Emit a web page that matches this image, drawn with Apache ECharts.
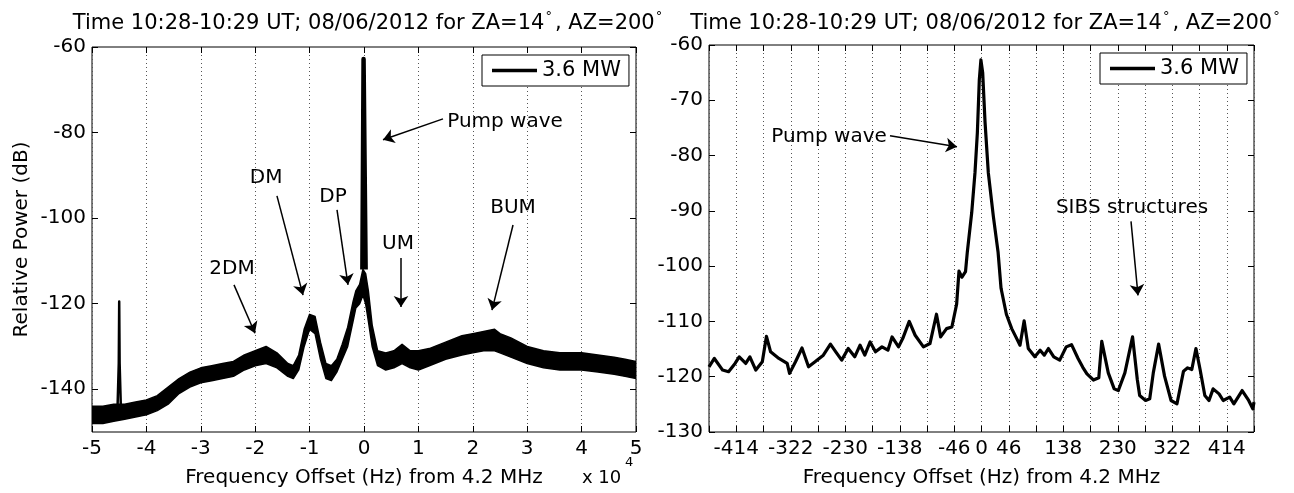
<!DOCTYPE html>
<html>
<head>
<meta charset="utf-8">
<script src="https://cdn.jsdelivr.net/npm/echarts@6/dist/echarts.min.js"></script>
<style>html,body{margin:0;padding:0;background:#fff}#c{width:1294px;height:493px}</style>
</head>
<body>
<div id="c"></div>
<script>
// ---------- data ----------
const titleText = 'Time 10:28-10:29 UT; 08/06/2012 for ZA=14';
const titleText2 = ', AZ=200';
const legendName = '3.6 MW';
const xName = 'Frequency Offset (Hz) from 4.2 MHz';
const yName = 'Relative Power (dB)';

// Left panel: frequency offset in units of 10^4 Hz, noisy band lower/upper edge (dB)
const bandX    = [-5.0,-4.8,-4.6,-4.4,-4.2,-4.0,-3.8,-3.6,-3.4,-3.2,-3.0,-2.8,-2.6,-2.4,-2.2,-2.0,-1.8,-1.6,-1.4,-1.3,-1.2,-1.1,-1.0,-0.9,-0.8,-0.7,-0.6,-0.5,-0.4,-0.3,-0.2,-0.15,-0.08,-0.02,0.03,0.08,0.15,0.25,0.4,0.55,0.7,0.85,1.0,1.2,1.5,1.8,2.0,2.2,2.4,2.5,2.7,3.0,3.3,3.6,4.0,4.3,4.6,4.8,5.0];
const bandLow  = [-148,-148,-147.5,-147,-146.5,-146,-145,-143.5,-141,-139.5,-138.5,-138,-137.5,-137,-135.5,-134.5,-134,-135,-137,-137.5,-135.5,-130,-126,-127,-133,-137.5,-138,-136,-133,-130,-124,-121,-120,-118,-120,-124,-130,-134.5,-135.5,-135,-134,-135,-135.5,-134.5,-133,-132,-131.5,-131,-131,-131.5,-132.5,-134,-135,-135.5,-135.5,-136,-136.5,-137,-137.5];
const bandHigh = [-144,-144,-143.5,-143.5,-143,-142.5,-141.5,-139.5,-137.5,-136,-135,-134.5,-134,-133.5,-132,-131,-130,-131.5,-134,-134.5,-132,-126,-122.5,-123,-129,-134,-134.5,-133,-129.5,-125.5,-119.5,-117,-115.5,-112,-113,-117,-125,-131,-131.5,-131,-129.5,-131,-131,-130.5,-129,-127.5,-127,-126.5,-126,-127,-128,-130,-131,-131.5,-131.5,-132,-132.5,-133,-133.5];
// narrow lines in the left panel
const pumpX   = [-0.03,-0.008,0.008,0.03];
const pumpY   = [-112,-62.8,-62.8,-112];
const spurX   = [-4.53,-4.508,-4.50,-4.492,-4.47];
const spurY   = [-144,-134,-119.5,-134,-144];

// Right panel: frequency offset (Hz), relative power (dB)
const rightX = [-460,-451,-437,-427,-416,-409,-398,-391,-381,-370,-363,-356,-342,-328,-324,-314,-303,-292,-281,-267,-255,-246,-236,-225,-214,-205,-197,-188,-179,-168,-158,-151,-140,-133,-122,-112,-98,-87,-76,-69,-59,-50,-42,-38,-33,-27,-24,-16.5,-11,-7,-3.7,-1,2,6,11.5,20,28,33,42,51,58,65,72,79,90,99,106,113,122,132,143,152,163,171,178,189,198,203,214,224,231,242,255,263,267,277,284,290,299,309,320,330,341,348,355,362,369,377,384,391,401,408,419,426,440,451,458,460];
const rightY = [-118.2,-116.7,-118.8,-119.1,-117.6,-116.4,-117.6,-116.4,-118.8,-117.3,-112.7,-115.5,-116.7,-117.6,-119.4,-117.3,-114.8,-118.2,-117.3,-116.1,-114.1,-115.5,-117.0,-114.9,-116.4,-114.3,-116.1,-113.7,-115.5,-114.6,-115.2,-112.8,-114.6,-113.1,-110.0,-112.5,-114.6,-114.0,-108.7,-112.8,-111.3,-111.0,-106.9,-100.9,-102.0,-101.0,-97.5,-90.3,-83.1,-75.9,-66.3,-62.7,-65,-74,-83.1,-91,-97.5,-104,-108.7,-111.3,-112.8,-114.3,-109.9,-114.9,-116.4,-115.2,-116.1,-114.9,-116.4,-117.0,-114.6,-114.2,-116.7,-118.3,-119.5,-120.6,-120.2,-113.6,-119.3,-122.2,-122.5,-119.3,-112.8,-120.5,-123.4,-124.3,-124,-119.3,-114.1,-119.9,-124.3,-124.9,-119,-118.4,-118.7,-114.9,-118.7,-123.4,-124.3,-122.2,-123.1,-124.3,-123.7,-124.9,-122.5,-124.3,-125.8,-124.6];

// tick labels
const leftXTicks  = [-5,-4,-3,-2,-1,0,1,2,3,4,5];
const leftYTicks  = [-140,-120,-100,-80,-60];
const rightXLabels = [-414,-322,-230,-138,-46,0,46,138,230,322,414];

// annotations: [text, textX, textY, tailX, tailY, headX, headY] in data units
const leftNotes = [
  ['Pump wave', 2.592, -77.5, 1.452, -76.8, 0.349, -81.7],
  ['DP', -0.57, -95.1, -0.496, -98.1, -0.294, -115.6],
  ['UM', 0.625, -106.0, 0.680, -109.3, 0.680, -120.8],
  ['BUM', 2.739, -97.6, 2.739, -101.6, 2.353, -121.5],
  ['DM', -1.80, -90.6, -1.60, -94.8, -1.121, -118.0],
  ['2DM', -2.426, -111.9, -2.390, -115.6, -2.004, -126.9]
];
const rightNotes = [
  ['Pump wave', -257.4, -76.6, -154.5, -76.4, -41.4, -78.4],
  ['SIBS structures', 254.1, -89.4, 252.4, -91.9, 264.2, -105.3]
];

// ---------- chart ----------
const FONT = 'DejaVu Sans';
const zip = (a, b) => a.map((v, i) => [v, b[i]]);
const chart = echarts.init(document.getElementById('c'), null, {renderer: 'canvas'});

function marks(notes) {
  return {
    markLine: {
      silent: true, animation: false,
      symbol: ['none', 'arrow'], symbolSize: 11,
      lineStyle: {color: '#000', width: 1.5, type: 'solid'},
      itemStyle: {color: '#000'},
      label: {show: false},
      data: notes.map(n => [{coord: [n[3], n[4]]}, {coord: [n[5], n[6]]}])
    },
    markPoint: {
      silent: true, animation: false,
      symbol: 'rect', symbolSize: 1,
      itemStyle: {color: 'rgba(0,0,0,0)'},
      label: {show: true, position: 'inside', color: '#000', fontSize: 20, fontFamily: FONT,
              formatter: p => p.name},
      data: notes.map(n => ({name: n[0], coord: [n[1], n[2]]}))
    }
  };
}

const tickStyle = {inside: true, length: 6, lineStyle: {color: '#000', width: 1}};
const noLine = {show: false, onZero: false};
const labelStyle = {color: '#000', fontSize: 20, fontFamily: FONT};
const gridLine = {show: true, lineStyle: {color: '#555', width: 1, type: [1, 3]}};
const nameStyle = {color: '#000', fontSize: 20, fontFamily: FONT};

function titleOf(x) {
  return {
    text: '{a|' + titleText + '}{b|°}{a|' + titleText2 + '}{b|°}',
    left: x, top: 5, textAlign: 'center',
    textStyle: {fontWeight: 'normal', rich: {
      a: {fontSize: 21, fontFamily: FONT, color: '#000', fontWeight: 'normal', lineHeight: 27},
      b: {fontSize: 13, fontFamily: FONT, color: '#000', fontWeight: 'normal', verticalAlign: 'top', lineHeight: 27, padding: [0, 3, 0, 1]}
    }}
  };
}

function legendOf(name, x, y, fmt) {
  const l = {data: [name], left: x, top: y, orient: 'horizontal', icon: 'rect', itemWidth: 45, itemHeight: 3.5,
     itemStyle: {color: '#000'}, padding: [5, 8, 5, 10], borderColor: '#000', borderWidth: 1, backgroundColor: '#fff',
     textStyle: {color: '#000', fontSize: 21, fontFamily: FONT}, selectedMode: false};
  if (fmt) l.formatter = fmt;
  return l;
}

const option = {
  animation: false,
  backgroundColor: '#fff',
  title: [titleOf(364), titleOf(981.5)],
  grid: [
    {left: 92, top: 47, width: 544, height: 385, show: true, borderColor: '#000', borderWidth: 1, containLabel: false},
    {left: 709, top: 45, width: 545, height: 388, show: true, borderColor: '#000', borderWidth: 1, containLabel: false}
  ],
  legend: [
    legendOf(legendName, 482, 55),
    legendOf(legendName + ' R', 1100, 53, () => legendName)
  ],
  xAxis: [
    {gridIndex: 0, type: 'value', min: -5, max: 5, interval: 1, position: 'bottom',
     axisLine: noLine, axisTick: tickStyle,
     axisLabel: Object.assign({margin: 7, hideOverlap: false, customValues: leftXTicks}, labelStyle),
     splitLine: gridLine,
     name: xName, nameLocation: 'middle', nameGap: 36, nameTextStyle: nameStyle},
    {gridIndex: 0, type: 'value', min: -5, max: 5, interval: 1, position: 'top',
     axisLine: noLine, axisTick: tickStyle, axisLabel: {show: false}, splitLine: {show: false}},
    {gridIndex: 1, type: 'value', min: -460, max: 460, interval: 46, position: 'bottom',
     axisLine: noLine, axisTick: tickStyle,
     axisLabel: Object.assign({margin: 7, hideOverlap: false, customValues: rightXLabels}, labelStyle),
     splitLine: gridLine,
     name: xName, nameLocation: 'middle', nameGap: 36, nameTextStyle: nameStyle},
    {gridIndex: 1, type: 'value', min: -460, max: 460, interval: 46, position: 'top',
     axisLine: noLine, axisTick: tickStyle, axisLabel: {show: false}, splitLine: {show: false}}
  ],
  yAxis: [
    {gridIndex: 0, type: 'value', min: -150, max: -60, interval: 10, position: 'left',
     axisLine: noLine, axisTick: Object.assign({customValues: leftYTicks}, tickStyle),
     axisLabel: Object.assign({margin: 6, customValues: leftYTicks}, labelStyle),
     splitLine: {show: false},
     name: yName, nameLocation: 'middle', nameGap: 60, nameRotate: 90, nameTextStyle: nameStyle},
    {gridIndex: 0, type: 'value', min: -150, max: -60, interval: 10, position: 'right',
     axisLine: noLine, axisTick: Object.assign({customValues: leftYTicks}, tickStyle),
     axisLabel: {show: false}, splitLine: {show: false}},
    {gridIndex: 1, type: 'value', min: -130, max: -60, interval: 10, position: 'left',
     axisLine: noLine, axisTick: tickStyle,
     axisLabel: Object.assign({margin: 6}, labelStyle), splitLine: {show: false}},
    {gridIndex: 1, type: 'value', min: -130, max: -60, interval: 10, position: 'right',
     axisLine: noLine, axisTick: tickStyle, axisLabel: {show: false}, splitLine: {show: false}}
  ],
  graphic: [
    {type: 'text', left: 582, top: 469, style: {text: 'x 10', fontSize: 18, fontFamily: FONT, fill: '#000'}},
    {type: 'text', left: 625, top: 456, style: {text: '4', fontSize: 13, fontFamily: FONT, fill: '#000'}}
  ],
  series: [
    {name: 'band', type: 'custom', xAxisIndex: 0, yAxisIndex: 0, silent: true, clip: true, z: 3,
     data: [[0, -100]],
     renderItem: function (params, api) {
       const upper = bandX.map((x, i) => api.coord([x, bandHigh[i]]));
       const lower = bandX.map((x, i) => api.coord([x, bandLow[i]])).reverse();
       return {type: 'polygon', shape: {points: upper.concat(lower)},
               style: {fill: '#000', stroke: '#000', lineWidth: 1.5, lineJoin: 'round'}};
     }},
    Object.assign({name: legendName, type: 'line', xAxisIndex: 0, yAxisIndex: 0, symbol: 'none',
     data: zip(pumpX, pumpY), lineStyle: {color: '#000', width: 4.5, join: 'round'}, silent: true, z: 4},
     marks(leftNotes)),
    {name: 'spur', type: 'line', xAxisIndex: 0, yAxisIndex: 0, symbol: 'none',
     data: zip(spurX, spurY), lineStyle: {color: '#000', width: 2.5, join: 'round'}, silent: true, z: 4},
    Object.assign({name: legendName + ' R', type: 'line', xAxisIndex: 2, yAxisIndex: 2, symbol: 'none',
     data: zip(rightX, rightY), lineStyle: {color: '#000', width: 3.2, join: 'round'}, silent: true, z: 4},
     marks(rightNotes))
  ]
};
chart.setOption(option);
</script>
</body>
</html>
